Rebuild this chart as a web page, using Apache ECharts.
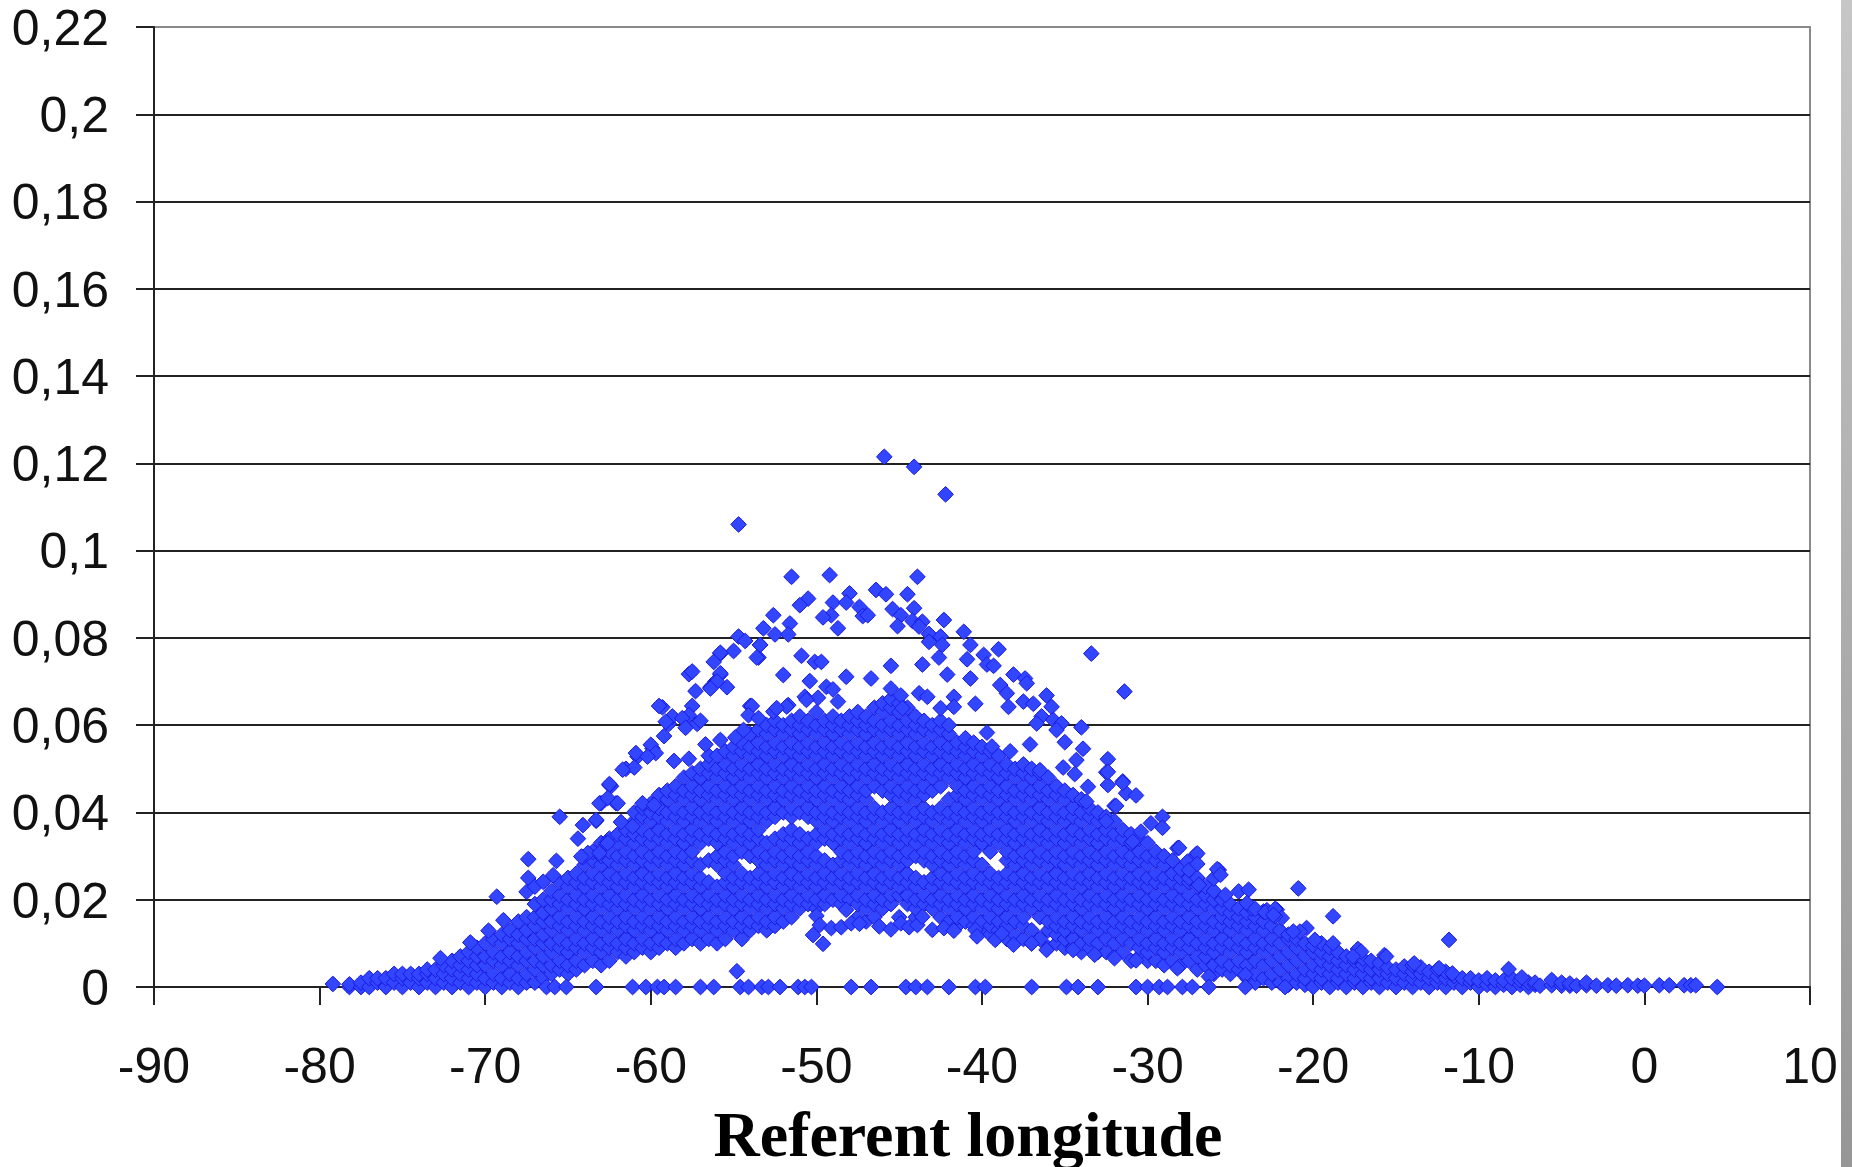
<!DOCTYPE html>
<html>
<head>
<meta charset="utf-8">
<style>html,body{margin:0;padding:0;background:#fff}#c{width:1852px;height:1167px}</style>
<script src="https://cdn.jsdelivr.net/npm/echarts@6/dist/echarts.min.js"></script>
</head>
<body>
<div id="c"></div>
<script>
const leftTail = [
[-79.2,0.7],[-78.2,0,0.6],[-77.5,0,1],[-77,0,2],[-76.5,1,2],[-76,0,2],[-75.5,1,3],[-75,0,2,3],[-74.5,1,3],[-74,0,2,3],
[-73.5,1,3,4],[-73,0,2,4],[-72.5,1,3,5],[-72,0,2,4,6],[-71.5,1,3,5,7],[-71,0,2,4,6,8],[-70.5,1,3,5,7,9],[-70,0,2,5,7,10],
[-69.5,1,3,6,8,11],[-69,0,2,5,7,10,12],[-68.5,1,3,6,8,11,13],[-68,0,2,5,7,10,12,15],[-67.5,1,3,6,8,11,13,16]
];
const leftFlank = [
[-67,1,4,6,9,11,14,16,19],[-66.5,2,5,7,10,12,15,17,20],[-66,3,5,8,10,13,15,18,20,22],[-65.5,4,6,9,11,14,16,19,21,24],
[-65,3,5,8,10,13,15,18,20,23,25],[-64.5,4,6,9,11,14,16,19,21,24,26],[-64,5,8,10,13,15,18,20,23,25,28],
[-63.5,6,9,11,14,16,19,21,24,26,29,31],[-63,5,8,10,13,15,18,20,23,25,28,30,33],[-62.5,6,9,11,14,16,19,21,24,26,29,31,34],
[-62,8,10,13,15,18,20,23,25,28,30,33,35],[-61.5,7,9,11,14,16,19,21,24,26,29,31,34,36],[-61,8,10,13,15,18,20,23,25,28,30,33,35,38,40],
[-60.5,9,11,14,16,19,21,24,26,29,31,34,36,39,41],[-60,8,10,13,15,18,20,23,25,28,30,33,35,38,40,42],
[-59.5,9,11,14,16,19,21,24,26,29,31,34,36,39,41,44],[-59,10,13,15,18,20,23,25,28,30,33,35,38,40,43,45],
[-58.5,9,11,14,16,19,21,24,26,29,31,34,36,39,41,44,46],[-58,10,13,15,18,20,23,25,28,30,33,35,38,40,43,45,48],
[-57.5,11,14,16,19,21,24,26,29,31,34,36,39,41,44,46,49],[-57,10,13,15,18,20,23,25,28,33,35,38,40,43,45,48,50],
[-56.5,11,14,16,19,21,24,29,34,36,39,41,44,46,49,51,53],[-56,10,13,15,18,20,23,28,30,33,35,38,40,43,45,48,50,53],
[-55.5,11,14,16,19,21,24,26,29,31,34,36,39,41,44,46,49,51,54],[-55,13,15,18,20,23,25,28,30,33,35,38,40,43,45,48,50,53,55],
[-54.5,11,14,16,19,21,24,26,31,34,36,39,41,44,46,49,51,54,56],[-54,13,15,18,20,23,25,30,33,35,38,40,43,45,48,50,53,55,58],
[-53.5,14,16,19,21,24,26,29,31,34,36,39,41,44,46,49,51,54,56,59]
];
const crest = [
[-53,13,15,18,20,23,25,28,30,33,38,40,43,45,48,50,53,55,58,60],[-52.5,14,16,19,21,24,26,29,31,34,39,41,44,46,49,51,54,56,59,61],
[-52,15,18,20,23,25,28,30,33,35,40,43,45,48,50,53,55,58,60],[-51.5,16,19,21,24,26,29,31,34,36,39,41,44,46,49,51,54,56,59,61],
[-51,18,20,23,25,28,30,33,35,40,43,45,48,50,53,55,58,60,62],[-50.5,19,21,24,26,29,31,34,39,41,44,46,49,51,54,56,59,61],
[-50,18,20,23,25,28,30,33,35,38,40,43,45,48,50,53,55,58,60,63],[-49.5,19,21,24,26,29,34,36,39,41,44,46,49,51,54,56,59,61],
[-49,20,23,25,28,33,35,38,40,43,45,48,50,53,55,58,60,62],[-48.5,19,21,24,26,29,31,34,36,39,41,44,46,49,51,54,56,59,61],
[-48,20,23,25,28,30,33,35,38,40,43,45,48,50,53,55,58,60,62],[-47.5,16,19,21,24,26,29,31,34,36,39,41,44,46,49,51,54,56,59,61,63],
[-47,15,18,20,23,25,28,30,33,35,38,40,43,45,48,50,53,55,58,60,62],[-46.5,16,19,21,24,26,29,31,34,36,39,41,46,49,51,54,56,59,61,64],
[-46,18,20,23,25,28,30,33,35,38,40,45,48,50,53,55,58,60,63,65],[-45.5,19,21,24,26,29,31,34,36,39,41,44,46,49,51,54,56,59,61,64,66],
[-45,16,21,23,25,28,30,33,35,38,40,43,45,48,50,53,55,58,60,63,65],[-44.5,19,21,24,26,29,31,34,36,39,41,44,46,49,51,54,56,59,61,64],
[-44,16,18,20,23,25,30,33,35,38,40,43,45,48,50,53,55,58,60,62],[-43.5,19,21,24,29,31,34,36,39,41,44,46,49,51,54,56,59,61],
[-43,18,20,23,25,28,30,33,35,38,40,45,48,50,53,55,58,60],[-42.5,16,19,21,24,26,29,31,34,36,39,41,46,49,51,54,56,59,61],
[-42,15,18,20,23,25,28,30,33,35,38,40,43,48,50,53,55,58,60]
];
const rightFlank = [
[-41.5,14,16,19,21,24,26,29,31,34,36,39,41,44,46,49,51,54,56],[-41,15,18,20,23,25,28,30,33,35,38,40,43,45,48,50,53,55,57],
[-40.5,14,16,19,21,24,26,29,31,34,36,39,41,44,46,49,51,54,56],[-40,13,15,18,20,23,25,28,33,35,38,40,43,45,48,50,53,55],
[-39.5,12,14,16,19,21,24,26,31,34,36,39,41,44,46,49,51,54],[-39,13,15,18,20,23,25,33,35,38,40,43,45,48,50,53],
[-38.5,11,14,16,19,21,24,26,29,31,34,36,39,41,44,46,49,51],[-38,12,15,18,20,23,25,28,30,33,35,38,40,43,45,48,50],
[-37.5,11,14,16,19,21,24,26,29,31,34,36,39,41,44,46,49,51],[-37,10,13,18,20,23,25,28,30,33,35,38,40,43,45,48,50],
[-36.5,11,16,19,21,24,26,29,31,34,36,39,41,44,46,49],[-36,9,13,15,18,20,23,25,28,30,33,35,38,40,43,45,48],
[-35.5,10,12,14,16,19,21,24,26,29,31,34,36,39,41,44,46],[-35,9,11,13,15,18,20,23,25,28,30,33,35,38,40,43,45],
[-34.5,9,11,14,16,19,21,24,26,29,31,34,36,39,41,44],[-34,8,10,13,15,18,20,23,25,28,30,33,35,38,40,43],
[-33.5,9,11,14,16,19,21,24,26,29,31,34,36,39,41],[-33,8,10,13,15,18,20,23,25,28,30,33,35,38,40],
[-32.5,8,11,14,16,19,21,24,26,29,31,34,36,39],[-32,7,10,13,15,18,20,23,25,28,30,33,35,38],
[-31.5,8,11,14,16,19,21,24,26,29,31,34,36],[-31,6,10,13,15,18,20,23,25,28,30,33,35],
[-30.5,7,9,11,14,16,19,21,24,26,29,31,34],[-30,6,8,10,13,15,18,20,23,25,28,30,33],
[-29.5,6,9,11,14,16,19,21,24,26,29,31],[-29,5,8,10,13,15,18,20,23,25,28,30],
[-28.5,6,9,11,14,16,19,21,24,26,29],[-28,5,8,10,13,15,18,20,23,25,27],
[-27.5,6,9,11,14,16,19,21,24,25],[-27,4,7,10,13,15,18,20,23,25],
[-26.5,5,7,9,11,14,16,19,21,23],[-26,3,5,8,10,13,15,18,20,22],
[-25.5,4,6,9,11,14,16,18,20],[-25,3,5,8,10,13,15,17,19],
[-24.5,4,6,9,11,14,16,18],[-24,2,5,8,10,13,15,17],
[-23.5,1,3,6,9,11,14,16],[-23,2,5,8,10,13,15],
[-22.5,1,3,6,9,11,14],[-22,1,4,7,10,13],
[-21.5,0.5,2,5,8,11,12],[-21,1,3,6,9,11],
[-20.5,0.5,2,4,7,10],[-20,0,3,5,8,9.5],
[-19.5,1,2,4,6,8,10],[-19,0,3,5,7,9]
];
const rightTail = [
[-18.5,1,2,4,6,8],[-18,0,3,5,7],[-17.5,1,2,4,6,7],[-17,0,3,5,6.5],[-16.5,1,2,4,6],[-16,0,2,4,5.5],[-15.5,1,3,4.5],[-15,0,2,4],
[-14.5,1,3,4.7],[-14,0,2,3.5,5],[-13.5,1,3,4.5],[-13,0,2,3.5],[-12.5,1,2.5,4],[-12,0,2,3.5],[-11.5,1,2.5],[-11,0,2],[-10.5,1,2],[-10,0,1.5],
[-9.5,0.5,2],[-9,0,1.5],[-8.5,0.5,1.5],[-8,0,2],[-7.5,0.5,1.5],[-7,0,1],[-6.6,0.5,1],[-6.3,0.3],[-5.6,0.4,1.6],[-5,0.3,1],
[-4.5,0.3,0.8],[-4.1,0.3],[-3.5,0.4,1],[-2.9,0.3],[-2.2,0.4],[-1.7,0.3],[-1,0.4],[-0.4,0.3],[0,0.3],[0.9,0.4],[1.5,0.4],
[2.4,0.4],[2.8,0.4],[3.1,0.4],[4.4,0]
];
const lowerEdgeLon = [-50.2,-49.6,-50,-49.8,-49.1,-48.5,-47.9,-47.4,-48.2,-46.2,-45.5,-44.9,-44.4,-43.9,-43.6,-43,-42.3,-41.7,-40.4,-40.3,-39.2,-38.8,-38.1,-37,-36.1,-34.5,-33.2,-32,-30.7,-28.2,-26.3,-24.1];
const lowerEdgeVal = [11.9,9.9,16.3,14.2,13.5,13.7,14.6,14.5,17.7,13.9,13.2,14.6,13.7,14.2,16.1,13.1,13.5,12.9,13.1,11.6,10.8,12.3,9.7,10,8.5,8.5,7.4,6.6,6.1,4.3,2.4,2.8];
const zeroRowLon = [-66.3,-65.8,-65.1,-63.3,-61.1,-60.3,-59.6,-59.2,-58.5,-57,-56.2,-54.6,-54.1,-53.3,-52.9,-52.2,-51.1,-50.7,-50.3,-47.9,-46.7,-44.6,-44,-43.3,-42,-40.4,-39.8,-37,-34.9,-34.2,-33,-30.7,-30,-29.3,-28.8,-27.9,-27.3,-26.3,-24.1,-21.7];
const sparsePoints = [
[-45.9,121.5],[-44.1,119.2],[-42.2,112.9],[-54.7,106],[-51.5,94],[-49.2,94.4],[-43.9,94],[-46.4,91],[-45.8,90],[-44.5,90],[-48,90.2],[-50.5,89],[-51,87.5],[-49,88.1],[-48.2,88.1],[-47.4,87.1],[-44.1,86.8],[-45.4,86.6],[-44.9,85.2],[-47.2,85],[-46.9,85.2],[-49.1,85.2],[-49.6,84.7],[-52.6,85.2],[-42.3,84.1],[-51.6,83.3],[-44.2,83.9],[-43.6,83.7],[-45.1,82.7],[-53.2,82.2],[-48.7,82.2],[-43.8,82.6],[-43.2,80.9],[-41.1,81.4],[-52.5,80.8],[-51.7,80.8],[-54.7,80.3],[-54.3,79.3],[-42.5,80.3],[-43.2,79.1],[-53.4,78.4],[-42.4,78.4],[-40.7,78.4],[-39,77.4],[-55,77],[-33.4,76.4],[-55.8,76.4],[-39.9,76.1],[-56.2,74.5],[-53.5,75.5],[-50.9,75.9],[-50.1,74.5],[-49.7,74.5],[-42.6,75.5],[-40.9,75.1],[-39.7,73.9],[-39.3,73.6],[-43.6,73.9],[-45.5,73.6],[-52,71.5],[-55.8,71.6],[-42.1,71.6],[-48.2,71.1],[-38.1,71.6],[-37.4,70.7],[-46.7,70.7],[-50.4,70.1],[-40.7,70.7],[-56.1,70],[-56.4,68.7],[-55.4,68.7],[-38.9,69.2],[-37.3,69.6],[-49.4,68.8],[-49,68.2],[-45.5,68.4],[-31.4,67.7],[-38.5,67.3],[-43.8,67.3],[-43.3,66.5],[-44.9,66.8],[-41.7,66.5],[-50.7,66.5],[-49.9,66.3],[-36.1,66.8],[-50.6,65.8],[-48.7,65.4],[-40.4,64.9],[-37.5,65.4],[-36.9,64.9],[-38.4,64.2],[-35.8,64.2],[-54,64.4],[-51.7,64.6],[-42.5,63.9],[-41.7,64.2],[-44.8,63.9],[-36.4,62],[-36.7,60.4],[-35.7,61.2],[-35.2,60.4],[-35.5,58.9],[-34,59.5],[-37.1,55.6],[-35,56.1],[-33.9,54.6],[-38.3,54],[-39.4,55.1],[-39.7,58.3],[-34.3,52],[-32.4,52.2],[-35.1,50.3],[-36.5,49.7],[-34.4,48.8],[-32.5,49.2],[-32.4,46.3],[-31.5,47.1],[-33.6,45.9],[-31.3,44.4],[-30.7,43.9],[-32,41.5],[-29.1,39],[-29.8,37.5],[-33.7,42.5],
[-59.3,64.1],[-57.7,71.7],[-58.9,60.3],[-57.2,60.3],[-59.9,54.7],[-60.8,52.8],[-61.5,50],[-62.4,46],[-62.5,46.3],[-63,42.1],[-62.1,42.1],[-60.5,42.1],[-65.5,39],[-64.1,37.1],[-63.3,38.1],[-64.4,34],[-62.7,32.9],[-64.1,29.8],[-67.4,29.3],[-65.7,28.9],[-65.9,25.6],[-67.4,25],[-69.3,20.7],[-67.5,21.8],[-67,23],[-66.5,24.1],[-69.8,12.9],[-68.9,15.3],[-70.9,10.2],[-72.7,6.6],[-54.8,3.6],
[-28.2,31.8],[-27.1,30.3],[-27.6,28.7],[-27.5,26.8],[-25.7,26.8],[-26,24.9],[-25.3,21.1],[-24.5,21.9],[-23.9,22.3],[-23.7,18],[-23,17.3],[-22.2,17.7],[-21.9,15.8],[-20.9,22.6],[-18.8,16.2],[-11.8,10.8],[-22.8,17.6],[-22.3,16.2],[-17.3,8.7],[-15.7,7.3],[-8.2,4.1],[-7.4,2.2]
];
const upperLeftPoints = [
[-53.4,78.4],[-55.8,76.6],[-53.6,75.5],[-57.5,72.3],[-55.8,71.9],[-56,70],[-56.4,68.4],[-57.3,67.8],[-59.5,64.4],[-57.5,64.4],[-53.9,64.4],[-58.7,62],[-57.7,62.3],[-58.1,61.6],[-59.1,60.8],[-57,61],[-57.9,59.4],[-59.2,57.5],[-54.1,62.3],[-53.5,61.6],[-52.6,63.1],[-51.8,64.3],[-52.4,63.9],[-60,55.5],[-60.9,53.6],[-59.7,53.6],[-60.2,52.8],[-61,50.3],[-61.7,49.8],[-58.6,51.8],[-57.7,52.3],[-56.7,55.6],[-55.8,56.6],[-54.9,57.2],[-54.4,58.9],[-62.5,46.5],[-63.1,42.1],[-62.6,43.3],[-62,42.1],[-59.8,41.7],[-63.3,38.3],[-61.8,37.8],[-61.1,36.8],[-62.6,33],[-63.8,30.7],[-63.1,30.7],[-64.2,29.9]
];
const lowerRightPoints = [
[-32.4,49.3],[-31.5,46.8],[-31.9,41.5],[-32.5,38],[-29.1,36.5],[-30.4,35.6],[-30.9,33.3],[-28.1,31.9],[-27,30.6],[-27,28.2],[-25.8,27],[-25.6,25.7],[-26.9,23.4],[-24,19.2],[-23.5,17.9],[-22.9,17.1],[-22.3,17.9],[-22.4,16.5],[-20.4,13.5],[-20.8,12.7],[-21.2,12.7],[-19.9,10.8],[-18.8,10],[-17.1,8.1],[-17.6,7],[-15.6,7],[-13.9,5.4],[-12.4,4.3],[-11.6,3.1]
];
const yTicks = ['0','0,02','0,04','0,06','0,08','0,1','0,12','0,14','0,16','0,18','0,2','0,22'];
const axisTitle = 'Referent longitude';

const points = [];
[leftTail, leftFlank, crest, rightFlank, rightTail].forEach(rows => rows.forEach(r => {
  for (let i = 1; i < r.length; i++) points.push([r[0], r[i] / 1000]);
}));
lowerEdgeLon.forEach((x, i) => points.push([x, lowerEdgeVal[i] / 1000]));
zeroRowLon.forEach(x => points.push([x, 0]));
[sparsePoints, upperLeftPoints, lowerRightPoints].forEach(list => list.forEach(p => points.push([p[0], p[1] / 1000])));

const font = '"Liberation Sans", Arial, sans-serif';
const chart = echarts.init(document.getElementById('c'), null, {renderer: 'canvas'});
chart.setOption({
  animation: false,
  backgroundColor: '#fff',
  title: {
    text: axisTitle, left: 963, top: 1102, textAlign: 'center',
    textStyle: {fontFamily: '"Liberation Serif", "Times New Roman", serif', fontWeight: 'bold', fontSize: 64, color: '#000'}
  },
  grid: {left: 154, right: 42, top: 27, bottom: 180, show: true, borderColor: '#8a8a8a', borderWidth: 2, backgroundColor: 'transparent'},
  xAxis: {
    type: 'value', min: -90, max: 10, interval: 10,
    axisLine: {onZero: false, lineStyle: {color: '#222', width: 2}},
    axisTick: {length: 18, lineStyle: {color: '#222', width: 2}},
    axisLabel: {margin: 57, fontFamily: font, fontSize: 50, color: '#111', showMinLabel: true, showMaxLabel: true},
    splitLine: {show: false}
  },
  yAxis: {
    type: 'value', min: 0, max: 0.22, interval: 0.02,
    axisLine: {show: true, onZero: false, lineStyle: {color: '#222', width: 2}},
    axisTick: {show: true, length: 18, lineStyle: {color: '#222', width: 2}},
    axisLabel: {
      margin: 45, fontFamily: font, fontSize: 50, color: '#111',
      formatter: (v) => '{a|' + yTicks[Math.round(v / 0.02)] + '}',
      rich: {a: {fontFamily: font, fontSize: 50, color: '#111', padding: [8, 0, 0, 0]}}
    },
    splitLine: {show: true, lineStyle: {color: ['#222','#222','#222','#222','#222','#222','#222','#222','#222','#222','#222','#8a8a8a'], width: 2}}
  },
  graphic: [{
    type: 'rect', left: 1841, top: 0, shape: {width: 11, height: 1167}, silent: true,
    style: {fill: new echarts.graphic.LinearGradient(0, 0, 0, 1, [{offset: 0, color: '#c6c6c6'}, {offset: 1, color: '#969696'}])}
  }],
  series: [{
    type: 'scatter', data: points, clip: false,
    symbol: 'path://M50 0 L72 20 L100 50 L72 80 L50 100 L28 80 L0 50 L28 20 Z', symbolSize: 15.5,
    itemStyle: {color: '#3246ff', borderColor: '#1a1ae0', borderWidth: 1, opacity: 1}
  }]
});
</script>
</body>
</html>
